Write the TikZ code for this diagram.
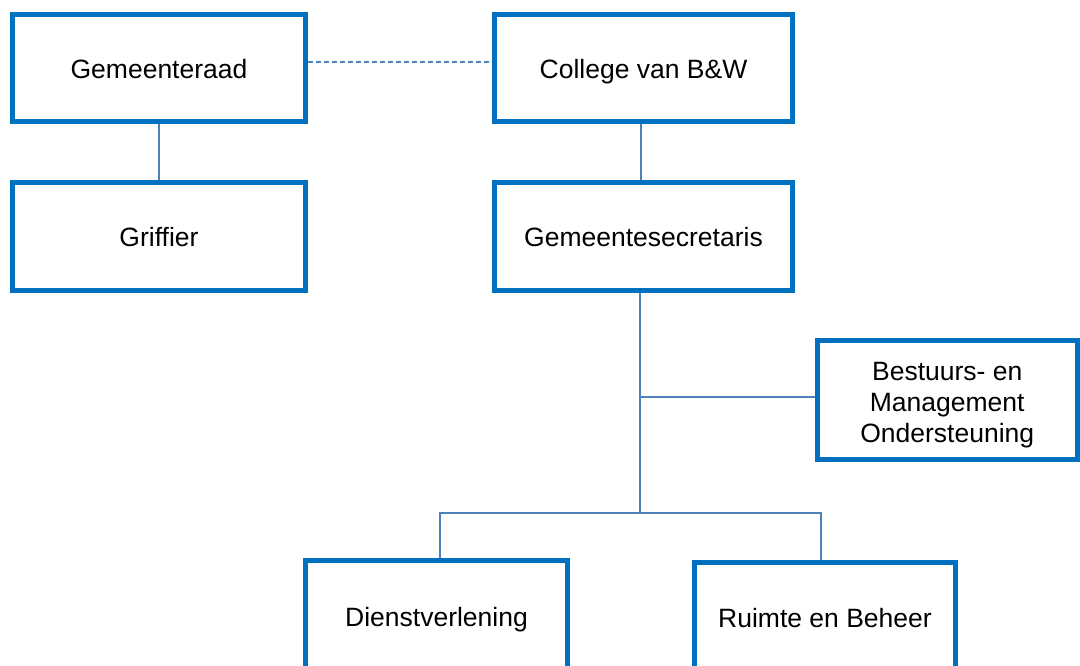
\documentclass[tikz,border=0pt]{standalone}
\usepackage{fontspec}
\setmainfont{Liberation Sans}
\definecolor{boxblue}{HTML}{0070C0}
\definecolor{linkblue}{HTML}{4F81BD}
\begin{document}
\begin{tikzpicture}[x=1pt,y=-1pt,
  orgbox/.style={draw=boxblue, line width=5pt, fill=white, rectangle, inner sep=0pt, align=center,
     font=\fontsize{26.5}{31}\selectfont},
  oneline/.style={orgbox, text height=24pt, text depth=3pt},
  link/.style={draw=linkblue, line width=1.6pt}]
\clip (0,0) rectangle (1080,666);
\fill[white] (0,0) rectangle (1080,666);
\node[oneline, minimum width=293pt, minimum height=107.5pt] (gr) at (159,68.25) {Gemeenteraad};
\node[oneline, minimum width=298pt, minimum height=107.5pt] (col) at (643.5,68.25) {College van B\&W};
\node[oneline, minimum width=293pt, minimum height=108pt] (gf) at (159,236.5) {Griffier};
\node[oneline, minimum width=298pt, minimum height=108pt] (gs) at (643.5,236.5) {Gemeentesecretaris};
\node[orgbox, minimum width=260.5pt, minimum height=119pt] (bmo) at (947.25,400) {\rule{0pt}{28.5pt}Bestuurs- en\\Management\\Ondersteuning};
\node[oneline, minimum width=262pt, minimum height=110pt] (dv) at (436.5,615.5) {Dienstverlening};
\node[oneline, minimum width=261pt, minimum height=110pt] (rb) at (825,617) {Ruimte en Beheer};
\coordinate (dy) at (0,62);
\coordinate (v1) at (641,0);
\coordinate (j1) at (640,397);
\coordinate (j2) at (640,513);
\coordinate (j2l) at (440,513);
\coordinate (j2r) at (821,513);
\draw[link, dash pattern=on 5pt off 3pt] (gr.east |- dy) -- (col.west |- dy);
\draw[link] (gr.south) -- (gf.north);
\draw[link] (col.south -| v1) -- (gs.north -| v1);
\draw[link] (gs.south -| j1) -- (j2);
\draw[link] (j1) -- (j1 -| bmo.west);
\draw[link] (j2l |- dv.north) -- (j2l) -- (j2r) -- (j2r |- rb.north);
\end{tikzpicture}
\end{document}
